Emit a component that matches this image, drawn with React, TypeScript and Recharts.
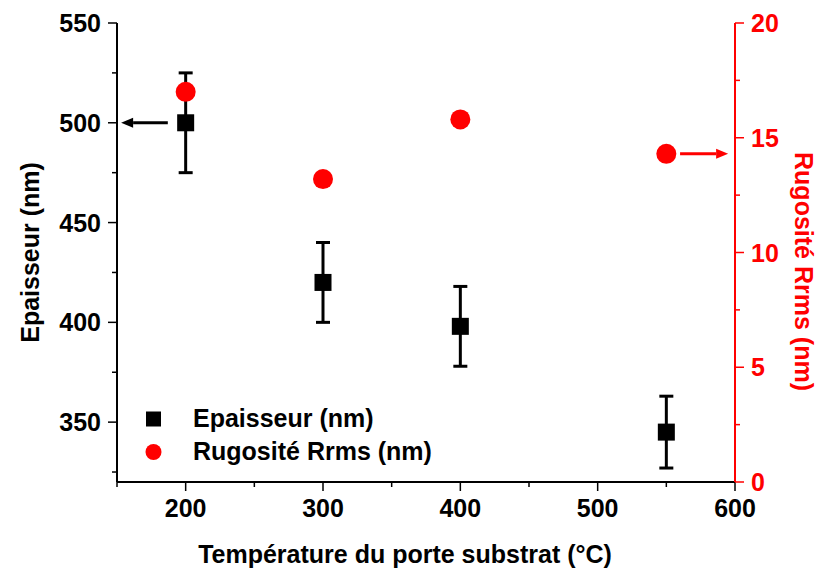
import React from "react";
import {
  ComposedChart,
  Scatter,
  XAxis,
  YAxis,
  ErrorBar,
  ReferenceLine,
  Legend,
} from "recharts";

const temperatures = [200, 300, 400, 550];
const epaisseur = [500, 420, 398, 345];
const epaisseurErr = [25, 20, 20, 18];
const rugosite = [17.0, 13.2, 15.8, 14.3];

const xTicks = [150, 200, 250, 300, 350, 400, 450, 500, 550, 600];
const xMajor = [200, 300, 400, 500, 600];
const leftTicks = [325, 350, 375, 400, 425, 450, 475, 500, 525, 550];
const leftMajor = [350, 400, 450, 500, 550];
const rightTicks = [0, 2.5, 5, 7.5, 10, 12.5, 15, 17.5, 20];
const rightMajor = [0, 5, 10, 15, 20];

const RED = "#ff0000";
const FONT = "'Liberation Sans', Arial, sans-serif";

const epData = temperatures.map((t, i) => ({
  x: t,
  y: epaisseur[i],
  err: epaisseurErr[i],
}));
const rugData = temperatures.map((t, i) => ({ x: t, y: rugosite[i] }));

const makeTick =
  (side: string, majors: number[], color: string, label: boolean) =>
  (props: any) => {
    const { x, y, payload } = props;
    const major = majors.includes(payload.value);
    const len = major ? 9 : 5;
    const textStyle = {
      fontFamily: FONT,
      fontWeight: 700,
      fontSize: 25,
      fill: color,
    };
    if (side === "left") {
      return (
        <g>
          <line x1={x - len} x2={x} y1={y} y2={y} stroke={color} strokeWidth={1.5} />
          {label && major ? (
            <text x={x - 16} y={y} dy={9} textAnchor="end" style={textStyle}>
              {payload.value}
            </text>
          ) : null}
        </g>
      );
    }
    if (side === "right") {
      return (
        <g>
          <line x1={x} x2={x + len} y1={y} y2={y} stroke={color} strokeWidth={1.5} />
          {label && major ? (
            <text x={x + 16} y={y} dy={9} textAnchor="start" style={textStyle}>
              {payload.value}
            </text>
          ) : null}
        </g>
      );
    }
    if (side === "top") {
      return (
        <g>
          <line x1={x} x2={x} y1={y} y2={y + len} stroke={color} strokeWidth={1.5} />
        </g>
      );
    }
    return (
      <g>
        <line x1={x} x2={x} y1={y} y2={y + len} stroke={color} strokeWidth={1.5} />
        {label && major ? (
          <text x={x} y={y + 35} textAnchor="middle" style={textStyle}>
            {payload.value}
          </text>
        ) : null}
      </g>
    );
  };

const SquareShape = (props: any) => {
  const { cx, cy } = props;
  return <rect x={cx - 8.5} y={cy - 8.5} width={17} height={17} fill="#000" />;
};

const CircleShape = (props: any) => {
  const { cx, cy } = props;
  return <circle cx={cx} cy={cy} r={10} fill={RED} />;
};

const arrowShape = (color: string) => (props: any) => {
  const { x1, y1, x2, y2 } = props;
  const dir = x2 > x1 ? 1 : -1;
  const head = 12;
  return (
    <g>
      <line
        x1={x1}
        y1={y1}
        x2={x2 - dir * head}
        y2={y2}
        stroke={color}
        strokeWidth={3}
      />
      <polygon
        points={`${x2},${y2} ${x2 - dir * head},${y2 - 5} ${x2 - dir * head},${y2 + 5}`}
        fill={color}
      />
    </g>
  );
};

const LegendContent = () => (
  <div style={{ fontFamily: FONT, fontWeight: 700, fontSize: 25, lineHeight: 1 }}>
    <div style={{ display: "flex", alignItems: "center", height: 33 }}>
      <svg width={40} height={20}>
        <rect x={11} y={2.5} width={15} height={15} fill="#000" />
      </svg>
      <span style={{ marginLeft: 18, color: "#000" }}>Epaisseur (nm)</span>
    </div>
    <div style={{ display: "flex", alignItems: "center", height: 33 }}>
      <svg width={40} height={20}>
        <circle cx={18.5} cy={10} r={8} fill={RED} />
      </svg>
      <span style={{ marginLeft: 18, color: "#000" }}>Rugosité Rrms (nm)</span>
    </div>
  </div>
);

export default function App() {
  return (
    <div style={{ position: "absolute", left: 0, top: 0, background: "#fff" }}>
      <ComposedChart
        width={819}
        height={572}
        margin={{ top: 23, right: 0, bottom: 0, left: 0 }}
      >
        <XAxis
          xAxisId="bottom"
          type="number"
          dataKey="x"
          domain={[150, 600]}
          ticks={xTicks}
          interval={0}
          height={90}
          tickSize={0}
          tickMargin={0}
          tickLine={false}
          axisLine={{ stroke: "#000", strokeWidth: 2 }}
          tick={makeTick("bottom", xMajor, "#000", true)}
          label={{
            content: ({ viewBox }: any) => (
              <text
                x={405}
                y={viewBox.y + 81}
                textAnchor="middle"
                style={{ fontFamily: FONT, fontWeight: 700, fontSize: 25, fill: "#000" }}
              >
                Température du porte substrat (°C)
              </text>
            ),
          }}
        />
        <XAxis
          xAxisId="top"
          orientation="top"
          type="number"
          dataKey="x"
          domain={[150, 600]}
          ticks={xTicks}
          interval={0}
          height={0}
          tickSize={0}
          tickMargin={0}
          tickLine={false}
          axisLine={{ stroke: "#000", strokeWidth: 2 }}
          tick={makeTick("top", xMajor, "#000", false)}
        />
        <YAxis
          yAxisId="left"
          type="number"
          domain={[320, 550]}
          ticks={leftTicks}
          interval={0}
          width={117}
          tickSize={0}
          tickMargin={0}
          tickLine={false}
          axisLine={{ stroke: "#000", strokeWidth: 2 }}
          tick={makeTick("left", leftMajor, "#000", true)}
          label={{
            content: ({ viewBox }: any) => {
              const cx = 30;
              const cy = viewBox.y + viewBox.height / 2;
              return (
                <text
                  x={cx}
                  y={cy}
                  transform={`rotate(-90 ${cx} ${cy})`}
                  textAnchor="middle"
                  dominantBaseline="central"
                  style={{ fontFamily: FONT, fontWeight: 700, fontSize: 25, fill: "#000" }}
                >
                  Epaisseur (nm)
                </text>
              );
            },
          }}
        />
        <YAxis
          yAxisId="right"
          orientation="right"
          type="number"
          domain={[0, 20]}
          ticks={rightTicks}
          interval={0}
          width={84}
          tickSize={0}
          tickMargin={0}
          tickLine={false}
          axisLine={{ stroke: RED, strokeWidth: 2 }}
          tick={makeTick("right", rightMajor, RED, true)}
          label={{
            content: ({ viewBox }: any) => {
              const cx = 804;
              const cy = viewBox.y + viewBox.height / 2 + 19;
              return (
                <text
                  x={cx}
                  y={cy}
                  transform={`rotate(90 ${cx} ${cy})`}
                  textAnchor="middle"
                  dominantBaseline="central"
                  style={{ fontFamily: FONT, fontWeight: 700, fontSize: 25, fill: RED }}
                >
                  Rugosité Rrms (nm)
                </text>
              );
            },
          }}
        />
        <ReferenceLine
          xAxisId="bottom"
          yAxisId="left"
          segment={[
            { x: 187, y: 500 },
            { x: 153, y: 500 },
          ]}
          shape={arrowShape("#000")}
        />
        <ReferenceLine
          xAxisId="bottom"
          yAxisId="right"
          segment={[
            { x: 560, y: 14.3 },
            { x: 595, y: 14.3 },
          ]}
          shape={arrowShape(RED)}
        />
        <Scatter
          name="Epaisseur (nm)"
          data={epData}
          xAxisId="bottom"
          yAxisId="left"
          dataKey="y"
          shape={SquareShape}
          isAnimationActive={false}
        >
          <ErrorBar
            dataKey="err"
            direction="y"
            width={7}
            stroke="#000"
            strokeWidth={3}
            isAnimationActive={false}
          />
        </Scatter>
        <Scatter
          name="Rugosité Rrms (nm)"
          data={rugData}
          xAxisId="bottom"
          yAxisId="right"
          dataKey="y"
          shape={CircleShape}
          isAnimationActive={false}
        />
        <Legend
          layout="horizontal"
          verticalAlign="middle"
          align="center"
          content={LegendContent}
          wrapperStyle={{ left: 135, top: 402, width: 340 }}
        />
      </ComposedChart>
    </div>
  );
}
